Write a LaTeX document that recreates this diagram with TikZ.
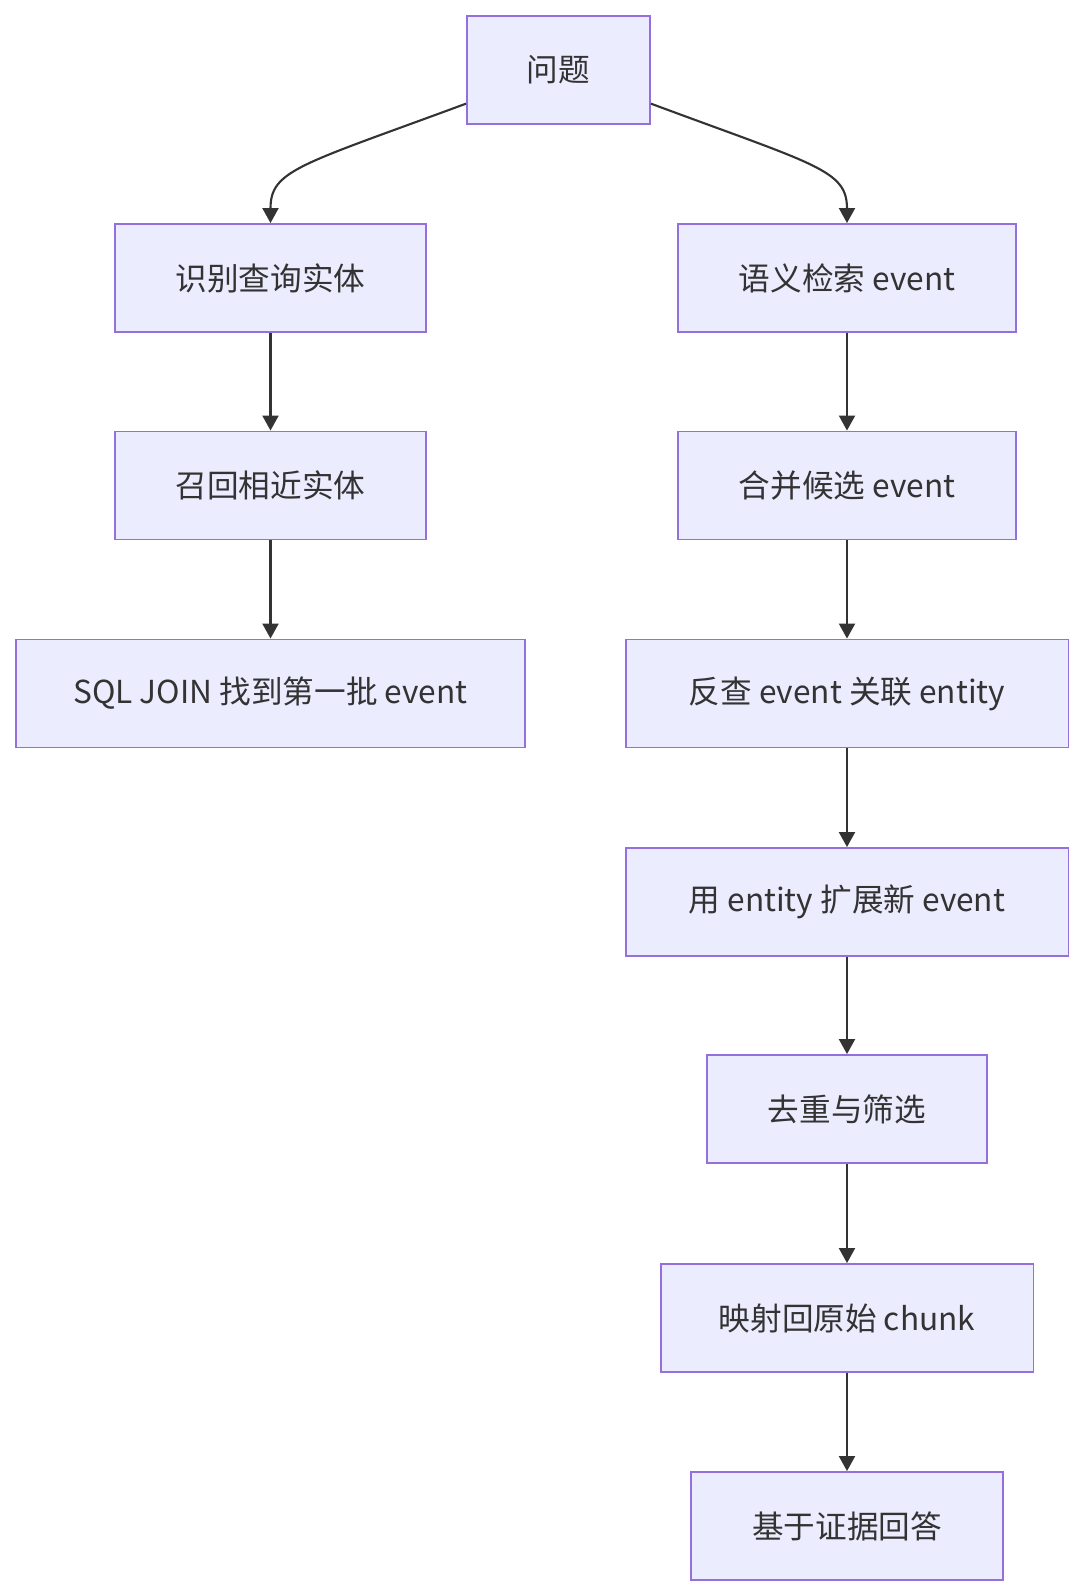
\documentclass[tikz,border=0pt]{standalone}
\usepackage{fontspec}
\setmainfont{Noto Sans CJK SC}
\usepackage{xcolor}
\usetikzlibrary{arrows.meta,positioning}
\definecolor{boxFill}{HTML}{ECECFF}
\definecolor{boxLine}{HTML}{9370DB}
\definecolor{edgeGray}{HTML}{333333}

\begin{document}
\begin{tikzpicture}[x=0.02cm,y=-0.02cm,
  stepbox/.style={draw=boxLine, fill=boxFill, line width=1.1pt, minimum height=2.16cm,
    text=edgeGray, font=\fontsize{18}{22}\selectfont, inner sep=0pt},
  flow/.style={draw=edgeGray, line width=1.2pt, -{Triangle[length=0.3cm,width=0.32cm]}}]
\useasboundingbox (0,0) rectangle (1084,1596);

\node[stepbox, minimum width=3.66cm] (wen) at (558.5,70) {问题};

% left branch
\node[stepbox, minimum width=6.22cm] (shibie) at (270.5,278) {识别查询实体};
\node[stepbox, minimum width=6.22cm] (zhaohui) at (270.5,485.5) {召回相近实体};
\node[stepbox, minimum width=10.18cm] (sqljoin) at (270.5,693.5) {SQL JOIN 找到第一批 event};

% right branch
\node[stepbox, minimum width=6.76cm] (yuyi) at (847,278) {语义检索 event};
\node[stepbox, minimum width=6.76cm] (hebing) at (847,485.5) {合并候选 event};
\node[stepbox, minimum width=8.86cm] (fancha) at (847,693.5) {反查 event 关联 entity};
\node[stepbox, minimum width=8.86cm] (kuozhan) at (847,902) {用 entity 扩展新 event};
\node[stepbox, minimum width=5.6cm] (quchong) at (847,1109) {去重与筛选};
\node[stepbox, minimum width=7.46cm] (yingshe) at (847,1318) {映射回原始 chunk};
\node[stepbox, minimum width=6.24cm] (huida) at (847,1526) {基于证据回答};

\draw[flow] (wen.-160) .. controls (300,165) and (270.5,170) .. (shibie.north);
\draw[flow] (wen.-20) .. controls (816,165) and (847,170) .. (yuyi.north);

\draw[flow] (shibie) -- (zhaohui);
\draw[flow] (zhaohui) -- (sqljoin);

\draw[flow] (yuyi) -- (hebing);
\draw[flow] (hebing) -- (fancha);
\draw[flow] (fancha) -- (kuozhan);
\draw[flow] (kuozhan) -- (quchong);
\draw[flow] (quchong) -- (yingshe);
\draw[flow] (yingshe) -- (huida);
\end{tikzpicture}
\end{document}
